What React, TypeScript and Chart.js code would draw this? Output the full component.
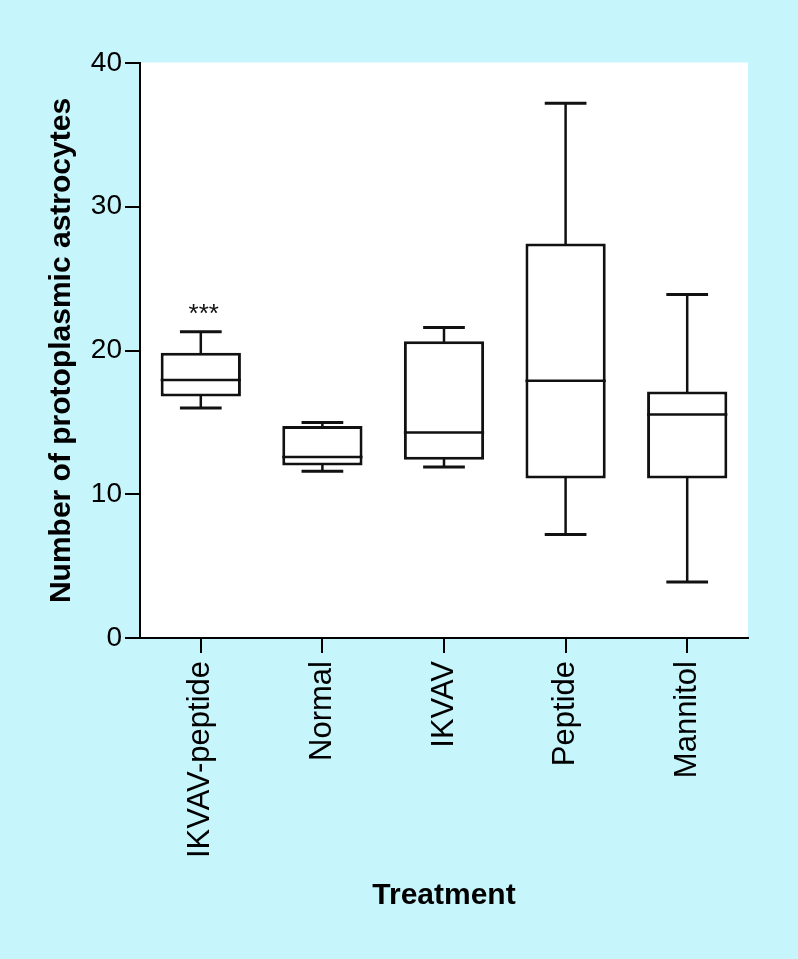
import React, { useEffect, useRef } from "react";
import { Chart, registerables } from "chart.js";

Chart.register(...registerables);

const categories = ["IKVAV-peptide", "Normal", "IKVAV", "Peptide", "Mannitol"];
const minValues = [16.0, 11.6, 11.9, 7.2, 3.9];
const q1Values = [16.8, 12.0, 12.4, 11.1, 11.1];
const medianValues = [17.95, 12.6, 14.3, 17.9, 15.55];
const q3Values = [19.85, 14.75, 20.65, 27.45, 17.15];
const maxValues = [21.3, 15.0, 21.6, 37.2, 23.9];
const yTicks = [0, 10, 20, 30, 40];
const significance = ["***", "", "", "", ""];
const significanceY = [22.0, 0, 0, 0, 0];

const FONT = "'Liberation Sans', Arial, Helvetica, sans-serif";
const BG = "#c6f6fc";

export default function App() {
  const ref = useRef<HTMLCanvasElement | null>(null);

  useEffect(() => {
    document.body.style.margin = "0";
    document.body.style.background = BG;
    const canvas = ref.current;
    if (!canvas) return;

    const boxPlugin = {
      id: "boxplotExtras",
      beforeDraw(chart: any) {
        const { ctx, chartArea } = chart;
        ctx.save();
        ctx.fillStyle = BG;
        ctx.fillRect(0, 0, chart.width, chart.height);
        ctx.fillStyle = "#ffffff";
        ctx.fillRect(chartArea.left, chartArea.top - 0.5, chartArea.right - chartArea.left, chartArea.bottom - chartArea.top + 0.5);
        ctx.restore();
      },
      afterDatasetsDraw(chart: any) {
        const { ctx } = chart;
        const xs = chart.scales.x;
        const ys = chart.scales.y;
        const meta = chart.getDatasetMeta(0);
        ctx.save();
        ctx.strokeStyle = "#111";
        ctx.lineCap = "butt";
        categories.forEach((_, i) => {
          const bar = meta.data[i];
          const cx = xs.getPixelForValue(i);
          const half = bar.width / 2;
          const capHalf = half * 0.52;
          const yMin = ys.getPixelForValue(minValues[i]);
          const yQ1 = ys.getPixelForValue(q1Values[i]);
          const yMed = ys.getPixelForValue(medianValues[i]);
          const yQ3 = ys.getPixelForValue(q3Values[i]);
          const yMax = ys.getPixelForValue(maxValues[i]);
          ctx.lineWidth = 2.5;
          ctx.beginPath();
          ctx.moveTo(cx, yQ3 + 2);
          ctx.lineTo(cx, yMax);
          ctx.moveTo(cx, yQ1 - 2);
          ctx.lineTo(cx, yMin);
          ctx.stroke();
          ctx.lineWidth = 3;
          ctx.beginPath();
          ctx.moveTo(cx - capHalf, yMax);
          ctx.lineTo(cx + capHalf, yMax);
          ctx.moveTo(cx - capHalf, yMin);
          ctx.lineTo(cx + capHalf, yMin);
          ctx.stroke();
          ctx.lineWidth = 2.5;
          ctx.beginPath();
          ctx.moveTo(cx - half, yMed);
          ctx.lineTo(cx + half, yMed);
          ctx.stroke();
          if (significance[i]) {
            ctx.fillStyle = "#111";
            ctx.font = `26px ${FONT}`;
            ctx.textAlign = "center";
            ctx.textBaseline = "alphabetic";
            ctx.fillText(significance[i], cx + 3, ys.getPixelForValue(significanceY[i]));
          }
        });
        ctx.restore();
      },
    };

    const chart = new Chart(canvas, {
      type: "bar",
      data: {
        labels: categories,
        datasets: [
          {
            data: categories.map((_, i) => [q1Values[i], q3Values[i]]) as any,
            backgroundColor: "#ffffff",
            borderColor: "#111",
            borderWidth: 3,
            borderSkipped: false,
            barPercentage: 0.66,
            categoryPercentage: 1,
          },
        ],
      },
      options: {
        animation: false,
        responsive: false,
        devicePixelRatio: 1,
        layout: { padding: { left: 0, top: 63, right: 50, bottom: 0 } },
        plugins: { legend: { display: false }, tooltip: { enabled: false } },
        scales: {
          x: {
            offset: true,
            ticks: {
              color: "#000",
              font: { family: FONT, size: 31 },
              minRotation: 90,
              maxRotation: 90,
              autoSkip: false,
              padding: 8,
            },
            grid: {
              offset: false,
              drawOnChartArea: false,
              drawTicks: true,
              tickLength: 15,
              color: "#000",
              lineWidth: 2,
            },
            border: { display: true, color: "#000", width: 2 },
            title: {
              display: true,
              text: "Treatment",
              color: "#000",
              font: { family: FONT, size: 30, weight: "bold" },
              padding: { top: 0, bottom: 45 },
            },
            afterFit: (s: any) => {
              s.height = 959 - 638;
            },
          },
          y: {
            min: 0,
            max: 40,
            afterBuildTicks: (s: any) => {
              s.ticks = yTicks.map((v) => ({ value: v }));
            },
            ticks: {
              color: "#000",
              font: { family: FONT, size: 28 },
              padding: 3,
            },
            grid: {
              drawOnChartArea: false,
              drawTicks: true,
              tickLength: 15,
              color: "#000",
              lineWidth: 2,
            },
            border: { display: true, color: "#000", width: 2 },
            title: {
              display: true,
              text: "Number of protoplasmic astrocytes",
              color: "#000",
              font: { family: FONT, size: 30, weight: "bold" },
              padding: { top: 44, bottom: 0 },
            },
            afterFit: (s: any) => {
              s.width = 140;
            },
          },
        },
      },
      plugins: [boxPlugin],
    } as any);

    return () => chart.destroy();
  }, []);

  return <canvas ref={ref} width={798} height={959} style={{ display: "block" }} />;
}
